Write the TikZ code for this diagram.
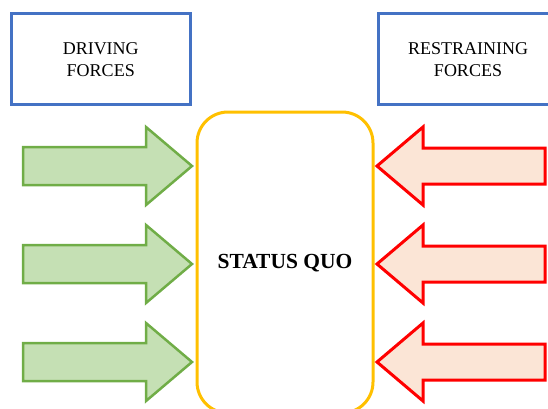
\documentclass[tikz,border=0pt]{standalone}
\usepackage{fontspec}
\setmainfont{Liberation Serif}
\definecolor{boxblue}{HTML}{4472C4}
\definecolor{qyellow}{HTML}{FFC000}
\definecolor{gfill}{HTML}{C5E0B4}
\definecolor{gline}{HTML}{70AD47}
\definecolor{rfill}{HTML}{FBE5D6}
\definecolor{rline}{HTML}{FF0000}
\begin{document}
\begin{tikzpicture}[x=1pt,y=-1pt,
  headbox/.style={draw=boxblue,line width=3pt,minimum width=178.5pt,minimum height=91pt,inner sep=0pt,
    align=center,font=\fontsize{18}{22}\selectfont},
  quobox/.style={draw=qyellow,line width=3pt,rounded corners=31pt},
  drivearrow/.style={draw=gline,fill=gfill,line width=2.5pt,line join=miter},
  restrainarrow/.style={draw=rline,fill=rfill,line width=3pt,line join=miter}]
\useasboundingbox (0,0) rectangle (548,408);
\clip (0,0) rectangle (548,408);
% heading boxes
\node[headbox] (driving) at (100.75,59.4) {DRIVING\\FORCES};
\node[headbox] (restraining) at (468,59.4) {RESTRAINING\\FORCES};
% status quo
\draw[quobox] (197,112) rectangle (373,413);
\node[font=\fontsize{21.5}{25}\selectfont\bfseries] (quo) at (285,263) {STATUS QUO};
% driving arrows
\foreach \c in {166,264,362}{
  \draw[drivearrow] (23,\c-19) -- (146,\c-19) -- (146,\c-39) -- (192,\c) -- (146,\c+39) -- (146,\c+19) -- (23,\c+19) -- cycle;
}
% restraining arrows
\foreach \c in {166,264,362}{
  \draw[restrainarrow] (545,\c-18) -- (423,\c-18) -- (423,\c-39) -- (377,\c) -- (423,\c+39) -- (423,\c+18) -- (545,\c+18) -- cycle;
}
\end{tikzpicture}
\end{document}
